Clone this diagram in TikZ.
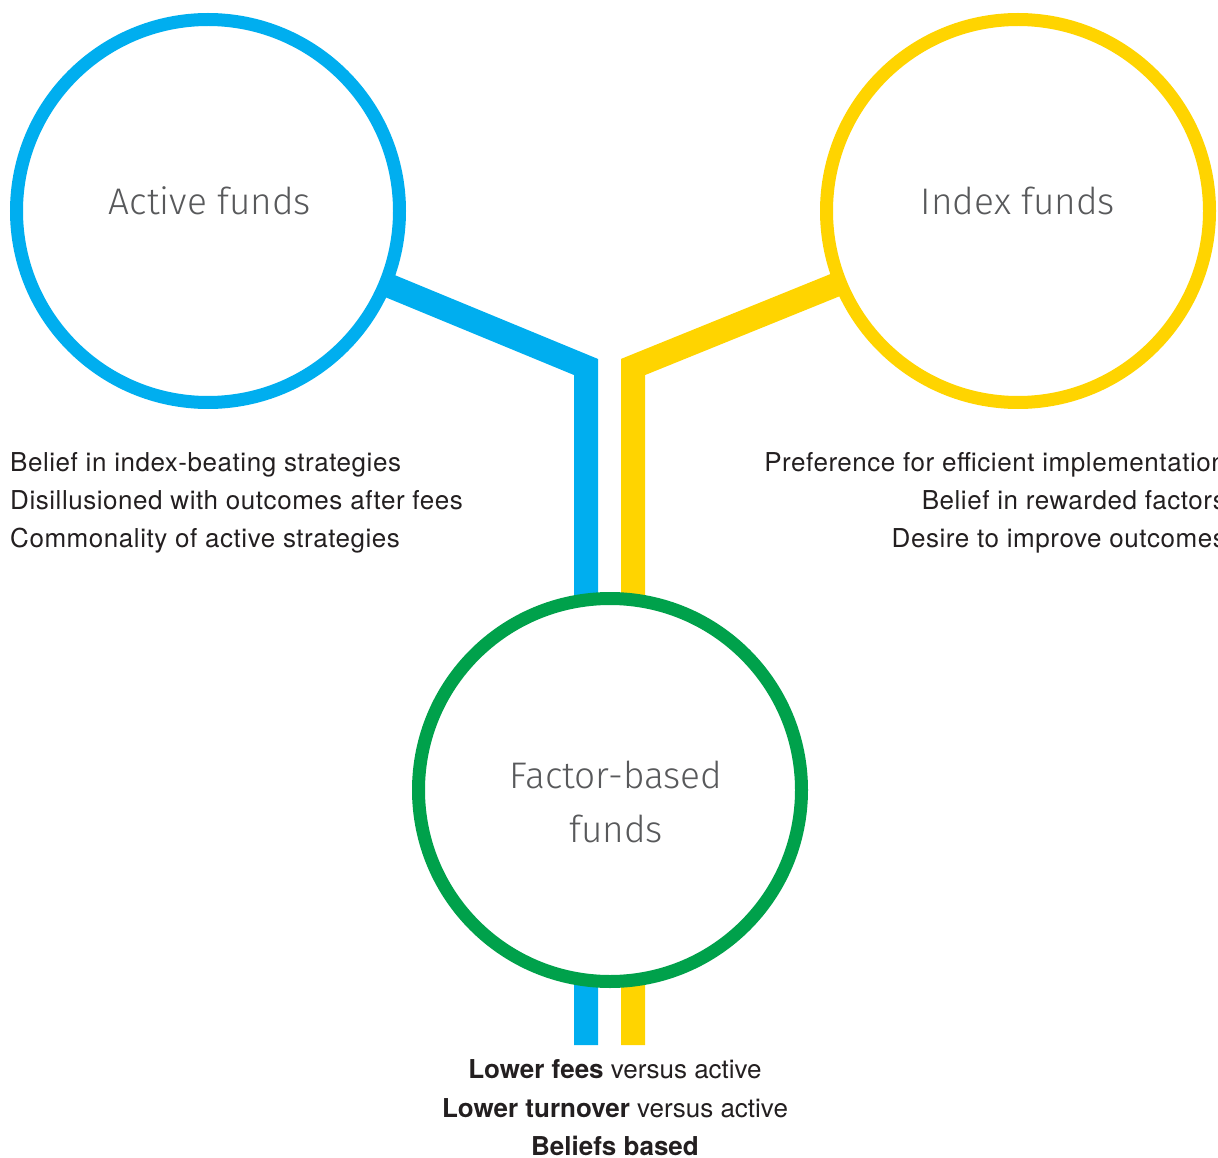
\documentclass[tikz,border=0pt]{standalone}
\usepackage{fontspec}
\setmainfont{TeX Gyre Heros}
\newfontfamily\lightfont{Fira Sans Light}
\newfontfamily\sidefont[LetterSpace=2.1]{TeX Gyre Heros}
\usetikzlibrary{backgrounds}
\definecolor{cblue}{HTML}{00AEEF}
\definecolor{cyellow}{HTML}{FFD400}
\definecolor{cgreen}{HTML}{00A14B}
\definecolor{ctitle}{HTML}{58595B}
\definecolor{ctext}{HTML}{231F20}
\begin{document}
\begin{tikzpicture}[x=1pt,y=-1pt,
  ring/.style={circle, minimum size=383pt, inner sep=0pt, line width=13pt, fill=white, draw=#1},
  title/.style={font=\lightfont\fontsize{37}{54}\selectfont, text=ctitle, anchor=base, inner sep=0pt},
  body/.style={font=\fontsize{26}{38}\selectfont, text=ctext, inner sep=0pt},
  side/.style={font=\sidefont\fontsize{26}{38}\selectfont, text=ctext, inner sep=0pt},
  bar/.style={line width=24pt, line join=miter, draw=#1}]
\useasboundingbox (0,0) rectangle (1218,1158);
\node[ring=cblue] (act) at (208,211) {};
\node[ring=cyellow] (idx) at (1018,211) {};
\node[ring=cgreen] (fac) at (610,790) {};
\node[title] (actT) at (210,215) {Active funds};
\node[title] (idxT) at (1018,215) {Index funds};
\node[title] (facT1) at (616,788) {Factor-based};
\node[title] (facT2) at (616,842) {funds};
\coordinate (aj) at (586,367); \coordinate (ae) at (586,1045);
\coordinate (ij) at (633,367); \coordinate (ie) at (633,1045);
\begin{scope}[on background layer]
\draw[bar=cblue] (act.center) -- (aj) -- (ae);
\draw[bar=cyellow] (idx.center) -- (ij) -- (ie);
\end{scope}
\node[side, anchor=base west] (l1) at (10,471) {Belief in index-beating strategies};
\node[side, anchor=base west] (l2) at (10,509) {Disillusioned with outcomes after fees};
\node[side, anchor=base west] (l3) at (10,547) {Commonality of active strategies};
\node[side, anchor=base east] (r1) at (1226,471) {Preference for efficient implementation};
\node[side, anchor=base east] (r2) at (1226,509) {Belief in rewarded factors};
\node[side, anchor=base east] (r3) at (1226,547) {Desire to improve outcomes};
\node[body, anchor=base] (b1) at (615,1078) {\textbf{Lower fees} versus active};
\node[body, anchor=base] (b2) at (615,1117) {\textbf{Lower turnover} versus active};
\node[body, anchor=base] (b3) at (615,1155) {\textbf{Beliefs based}};
\end{tikzpicture}
\end{document}
